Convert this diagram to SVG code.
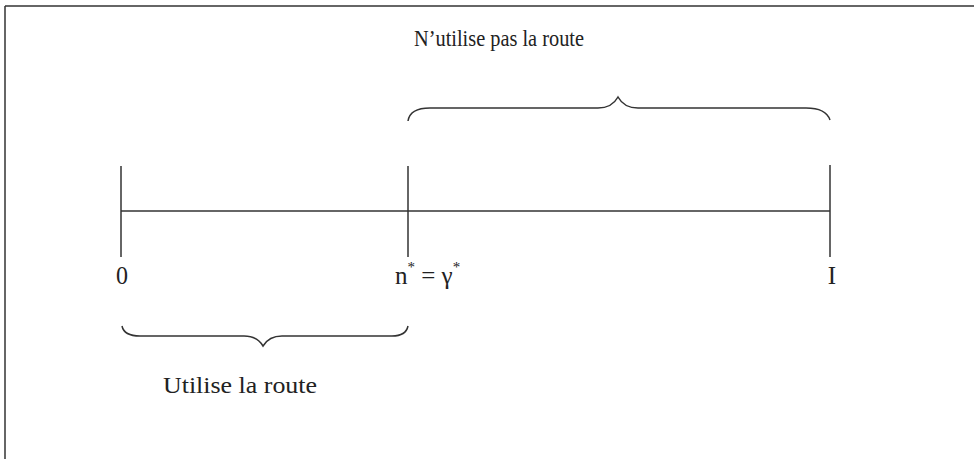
<svg xmlns="http://www.w3.org/2000/svg" width="974" height="459" viewBox="0 0 974 459">
<style>
.ln{stroke:#333;stroke-width:1.5;fill:none}
.br{stroke:#333;stroke-width:1.5;fill:none}
text{font-family:"Liberation Serif","Times New Roman",serif;fill:#222}
.lbl{font-size:24px}
.num{font-size:25px}
.sup{font-size:15px}
</style>
<rect width="974" height="459" fill="#fff"/>
<g id="frame">
<line class="ln" x1="5" y1="6" x2="974" y2="6"/>
<line class="ln" x1="5" y1="6" x2="5" y2="459"/>
</g>
<g id="connectors">
<line class="ln" x1="121" y1="211" x2="830" y2="211"/>
<line class="ln" x1="121" y1="166" x2="121" y2="257"/>
<line class="ln" x1="408" y1="166" x2="408" y2="257"/>
<line class="ln" x1="830" y1="165" x2="830" y2="257"/>
</g>
<g id="brace-top">
<path class="br" d="M408,121 Q410,108 430,108 L598,108 Q612,108 618,97 Q624,108 638,108 L806,108 Q826,108 830,120"/>
</g>
<g id="brace-bottom">
<path class="br" d="M122,326 Q124,336 140,336 L244,336 Q257,336 263,346 Q269,336 282,336 L392,336 Q406,336 408,326"/>
</g>
<g id="labels">
<text class="lbl" x="499" y="46" text-anchor="middle" textLength="170" lengthAdjust="spacingAndGlyphs">N’utilise pas la route</text>
<text class="lbl" x="240" y="393" text-anchor="middle" textLength="154" lengthAdjust="spacingAndGlyphs">Utilise la route</text>
<text class="num" x="122" y="284" text-anchor="middle" textLength="12" lengthAdjust="spacingAndGlyphs">0</text>
<text class="num" x="395" y="284">n<tspan class="sup" dy="-12">*</tspan><tspan dy="12"> = γ</tspan><tspan class="sup" dy="-12">*</tspan></text>
<text class="num" x="832" y="284" text-anchor="middle">I</text>
</g>
</svg>
